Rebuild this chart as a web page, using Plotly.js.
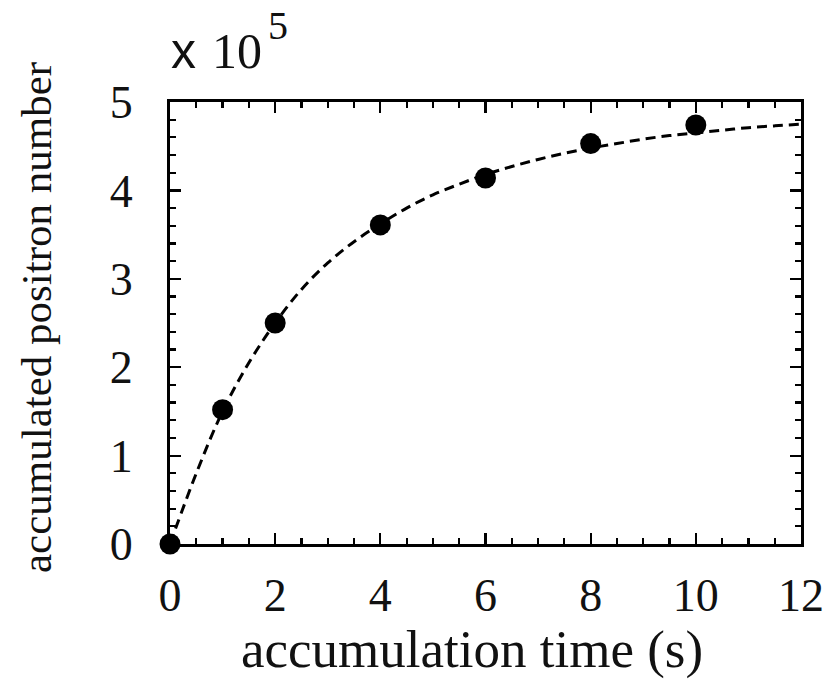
<!DOCTYPE html>
<html>
<head>
<meta charset="utf-8">
<script src="https://cdn.plot.ly/plotly-3.0.1.min.js"></script>
<style>html,body{margin:0;padding:0;background:#fff;}#chart{width:831px;height:681px;}</style>
</head>
<body>
<div id="chart"></div>
<script>
// measured points (x 10^5)
const timeS = [0, 1, 2, 4, 6, 8, 10];
const positrons = [0, 1.52, 2.50, 3.61, 4.14, 4.53, 4.74];
// dashed fit curve
const fitT = [0,0.5,1,1.5,2,2.5,3,3.5,4,4.5,5,5.5,6,6.5,7,7.5,8,8.5,9,9.5,10,10.5,11,11.5,12];
const fitN = [0,0.80,1.50,2.05,2.50,2.88,3.18,3.42,3.62,3.80,3.95,4.07,4.18,4.27,4.35,4.42,4.48,4.53,4.58,4.62,4.65,4.68,4.71,4.73,4.75];
const xTickVals = [0,2,4,6,8,10,12];
const yTickVals = [0,1,2,3,4,5];
const xTitle = 'accumulation time (s)';
const yTitle = 'accumulated positron number';

const serif = '"Liberation Serif", "Times New Roman", serif';
const sans = '"Liberation Sans", Arial, sans-serif';

// plot area in pixels
const W = 831, H = 681, L = 170, R = 30, T = 102, B = 137;
const pw = W - L - R, ph = H - T - B;
const px = v => (v - L) / pw;          // pixel -> paper x
const py = v => (H - B - v) / ph;      // pixel -> paper y

const traces = [
  {x: fitT, y: fitN, type: 'scatter', mode: 'lines',
   line: {color: '#000', width: 3, dash: '10px,6px', shape: 'spline'},
   hoverinfo: 'skip', cliponaxis: true},
  {x: timeS, y: positrons, type: 'scatter', mode: 'markers',
   marker: {color: '#000', size: 21}, cliponaxis: false}
];

const axCommon = {
  showline: true, linecolor: '#000', linewidth: 3, mirror: 'allticks',
  ticks: 'inside', ticklen: 11, tickwidth: 2.2, tickcolor: '#000',
  showgrid: false, zeroline: false, fixedrange: true,
  tickfont: {family: serif, size: 46, color: '#111'}
};

const ann = (text, x, y, family, size, extra) => Object.assign({
  xref: 'paper', yref: 'paper', x: px(x), y: py(y), xanchor: 'center', yanchor: 'middle',
  showarrow: false, text: text, font: {family: family, size: size, color: '#111'}
}, extra || {});

const layout = {
  width: W, height: H,
  margin: {l: L, r: R, t: T, b: B},
  paper_bgcolor: '#fff', plot_bgcolor: '#fff',
  showlegend: false,
  xaxis: Object.assign({}, axCommon, {
    range: [0, 12], tickvals: xTickVals, ticklabelstandoff: 9,
    minor: {dtick: 0.5, ticks: 'inside', ticklen: 6, tickwidth: 2.2, tickcolor: '#000', showgrid: false}
  }),
  yaxis: Object.assign({}, axCommon, {
    range: [0, 5], tickvals: yTickVals, ticklabelstandoff: 25,
    minor: {dtick: 0.2, ticks: 'inside', ticklen: 6, tickwidth: 2.2, tickcolor: '#000', showgrid: false}
  }),
  annotations: [
    ann(xTitle, 472, 649, serif, 53),
    ann(yTitle, 36, 318, serif, 43, {textangle: -90}),
    ann('x', 183, 51, sans, 50),
    ann('10', 236.5, 51, serif, 50),
    ann('5', 277.5, 26, serif, 40)
  ]
};

Plotly.newPlot('chart', traces, layout, {displayModeBar: false, staticPlot: true});
</script>
</body>
</html>
